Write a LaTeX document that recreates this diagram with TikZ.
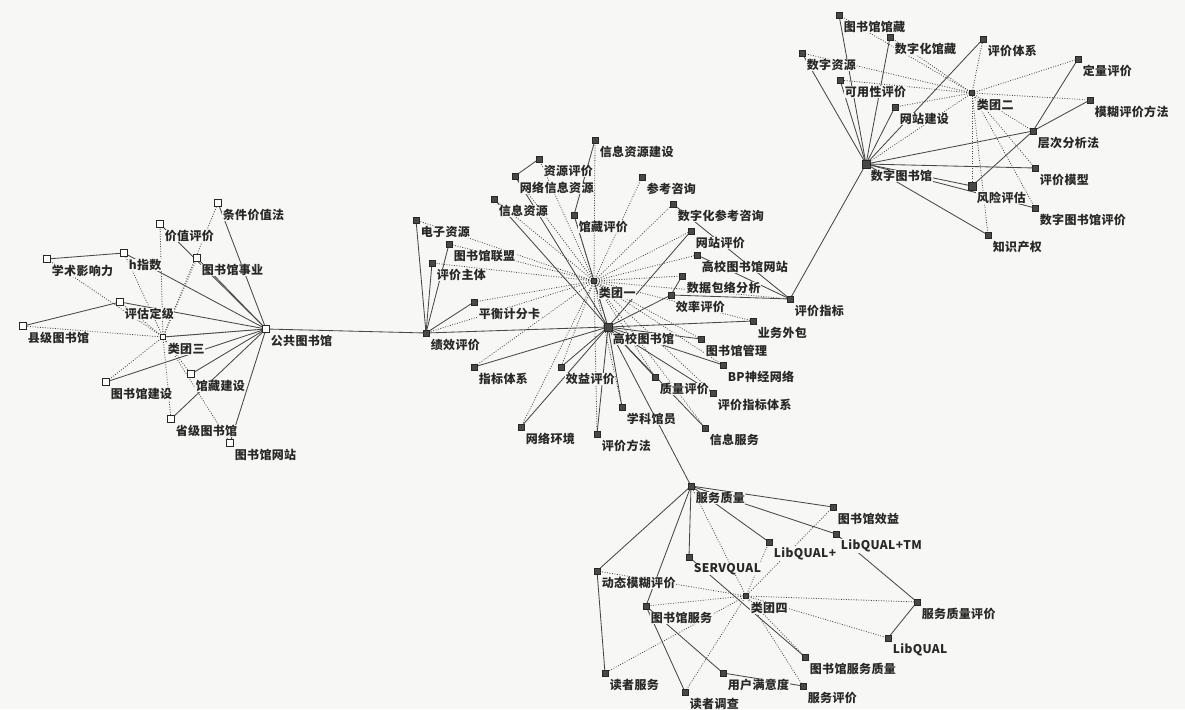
\documentclass[tikz,border=0pt]{standalone}
\usepackage{fontspec}
\newfontfamily\cjk[LetterSpace=3]{Noto Sans CJK SC}
\pgfdeclarelayer{bg}\pgfdeclarelayer{lab}
\pgfsetlayers{bg,lab,main}
\definecolor{bgc}{RGB}{247,247,245}
\definecolor{ink}{RGB}{40,40,40}
\tikzset{
 mk/.style={rectangle,draw=ink,fill=ink!85,minimum size=6.5pt,inner sep=0pt,line width=0.4pt},
 hk/.style={rectangle,draw=ink,fill=white,minimum size=6.5pt,inner sep=0pt,line width=0.9pt},
 bk/.style={mk,minimum size=8pt},
 ck/.style={mk,minimum size=5pt},
 hc/.style={hk,minimum size=5pt,line width=0.7pt},
 lbl/.style={anchor=west,inner sep=0.6pt,fill=bgc,text=ink,font=\cjk\bfseries\fontsize{12}{13}\selectfont},
 sl/.style={draw=ink!85,line width=0.85pt},
 dl/.style={draw=ink!85,line width=0.8pt,dash pattern=on 0.9pt off 1.6pt},
}
\newcommand\nd[5]{\node[#5] (#1) at (#2,#3) {};\begin{pgfonlayer}{lab}\node[lbl] (#1t) at (#2+4,#3+12) {#4};\end{pgfonlayer}}
\begin{document}
\begin{tikzpicture}[x=1pt,y=-1pt]
\begin{pgfonlayer}{bg}
\fill[bgc] (0,0) rectangle (1185,709);
\end{pgfonlayer}
\useasboundingbox (0,0) rectangle (1185,709);
% cluster 3
\nd{p0}{266}{329}{公共图书馆}{hk}
\nd{p1}{218}{203}{条件价值法}{hk}
\nd{p2}{160}{224}{价值评价}{hk}
\nd{p3}{47}{259}{学术影响力}{hk}
\nd{p4}{124}{253}{h指数}{hk}
\nd{p5}{197}{258}{图书馆事业}{hk}
\nd{p6}{120}{302}{评估定级}{hk}
\nd{p7}{23}{326}{县级图书馆}{hk}
\nd{p8}{163}{337}{类团三}{hc}
\nd{p9}{191}{374}{馆藏建设}{hk}
\nd{p10}{106}{382}{图书馆建设}{hk}
\nd{p11}{171}{419}{省级图书馆}{hk}
\nd{p12}{230}{443}{图书馆网站}{hk}
% cluster 1
\nd{u0}{608}{327}{高校图书馆}{bk}
\nd{u1}{595}{140}{信息资源建设}{mk}
\nd{u2}{539}{159}{资源评价}{mk}
\nd{u3}{515}{176}{网络信息资源}{mk}
\nd{u4}{642}{177}{参考咨询}{mk}
\nd{u5}{494}{199}{信息资源}{mk}
\nd{u6}{574}{215}{馆藏评价}{mk}
\nd{u7}{673}{204}{数字化参考咨询}{mk}
\nd{u8}{416}{220}{电子资源}{mk}
\nd{u9}{691}{231}{网站评价}{mk}
\nd{u10}{449}{244}{图书馆联盟}{mk}
\nd{u11}{697}{255}{高校图书馆网站}{mk}
\nd{u12}{432}{263}{评价主体}{mk}
\nd{u13}{594}{281}{类团一}{ck}
\nd{u14}{682}{276}{数据包络分析}{mk}
\nd{u15}{671}{295}{效率评价}{mk}
\nd{u16}{790}{299}{评价指标}{mk}
\nd{u17}{474}{302}{平衡计分卡}{mk}
\nd{u18}{753}{321}{业务外包}{mk}
\nd{u19}{426}{333}{绩效评价}{mk}
\nd{u20}{701}{339}{图书馆管理}{mk}
\nd{u21}{723}{365}{BP神经网络}{mk}
\nd{u22}{474}{367}{指标体系}{mk}
\nd{u23}{561}{367}{效益评价}{mk}
\nd{u24}{655}{377}{质量评价}{mk}
\nd{u25}{713}{393}{评价指标体系}{mk}
\nd{u26}{622}{407}{学科馆员}{mk}
\nd{u27}{705}{428}{信息服务}{mk}
\nd{u28}{521}{427}{网络环境}{mk}
\nd{u29}{597}{434}{评价方法}{mk}
% cluster 2
\nd{d0}{866}{164}{数字图书馆}{bk}
\nd{d1}{839}{15}{图书馆馆藏}{mk}
\nd{d2}{890}{37}{数字化馆藏}{mk}
\nd{d3}{983}{39}{评价体系}{mk}
\nd{d4}{802}{53}{数字资源}{mk}
\nd{d5}{1078}{59}{定量评价}{mk}
\nd{d6}{840}{80}{可用性评价}{mk}
\nd{d7}{972}{93}{类团二}{ck}
\nd{d8}{1090}{100}{模糊评价方法}{mk}
\nd{d9}{895}{107}{网站建设}{mk}
\nd{d10}{1033}{131}{层次分析法}{mk}
\nd{d11}{1035}{168}{评价模型}{mk}
\nd{d12}{972}{186}{风险评估}{bk}
\nd{d13}{1035}{208}{数字图书馆评价}{mk}
\nd{d14}{988}{235}{知识产权}{mk}
% cluster 4
\nd{s0}{691}{486}{服务质量}{mk}
\nd{s1}{833}{507}{图书馆效益}{mk}
\nd{s2}{836}{534}{LibQUAL+TM}{mk}
\nd{s3}{769}{542}{LibQUAL+}{mk}
\nd{s4}{689}{557}{SERVQUAL}{mk}
\nd{s5}{597}{571}{动态模糊评价}{mk}
\nd{s6}{746}{596}{类团四}{ck}
\nd{s7}{917}{602}{服务质量评价}{mk}
\nd{s8}{646}{606}{图书馆服务}{mk}
\nd{s9}{888}{638}{LibQUAL}{mk}
\nd{s10}{805}{657}{图书馆服务质量}{mk}
\nd{s11}{605}{673}{读者服务}{mk}
\nd{s12}{723}{673}{用户满意度}{mk}
\nd{s13}{803}{686}{服务评价}{mk}
\nd{s14}{685}{692}{读者调查}{mk}
\begin{pgfonlayer}{bg}
% solid edges
\foreach \a/\b in {p3/p4,p7/p6,p0/p1,p0/p2,p0/p4,p0/p5,p0/p6,p0/p8,p0/p9,p0/p10,p0/p11,p0/p12,p0/u19,
 u19/u0,u19/u8,u19/u12,u19/u10,u19/u17,u22/u0,u2/u3,u1/u6,u5/u0,u3/u0,u6/u0,u9/u0,u14/u15,u15/u0,
 u0/u18,u0/u20,u0/u21,u0/u25,u0/u24,u0/u26,u0/u23,u0/u28,u0/u29,u0/u27,u0/s0,u15/u16,u11/u16,u7/u16,u16/d0,
 d0/d1,d0/d2,d0/d4,d0/d6,d0/d9,d0/d3,d0/d10,d0/d11,d0/d12,d0/d13,d0/d14,d5/d10,d10/d12,d10/d8,
 s0/s1,s0/s2,s0/s3,s0/s4,s0/s5,s0/s8,s5/s11,s4/s10,s8/s14,s8/s12,s2/s7,s7/s9,s12/s13}
 \draw[sl] (\a.center) -- (\b.center);
% dotted edges
\foreach \b in {p0,p1,p2,p3,p4,p5,p6,p7,p9,p10,p11,p12}
 \draw[dl] (p8.center) -- (\b.center);
\foreach \b in {u0,u1,u2,u3,u4,u5,u6,u7,u8,u9,u10,u11,u12,u14,u16,u17,u18,u19,u20,u21,u22,u23,u24,u25,u26,u27,u28,u29}
 \draw[dl] (u13.center) -- (\b.center);
\foreach \b in {d0,d1,d2,d3,d4,d5,d6,d8,d9,d10,d11,d12,d13,d14}
 \draw[dl] (d7.center) -- (\b.center);
\foreach \b in {s0,s1,s3,s5,s7,s8,s9,s10,s11,s13,s14}
 \draw[dl] (s6.center) -- (\b.center);
\end{pgfonlayer}
\end{tikzpicture}
\end{document}
